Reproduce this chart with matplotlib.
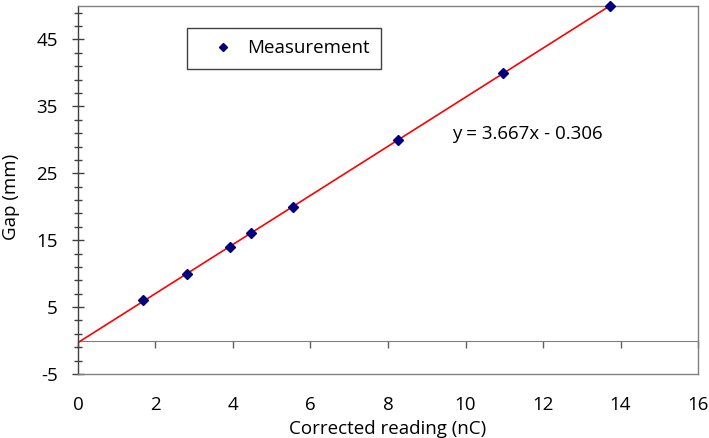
import numpy as np
import matplotlib
matplotlib.use('Agg')
import matplotlib.pyplot as plt
from matplotlib.ticker import FixedLocator, NullFormatter

plt.rcParams['font.family'] = ['Open Sans', 'DejaVu Sans']
plt.rcParams['axes.unicode_minus'] = False

# measured points
reading = [1.68, 2.81, 3.91, 4.46, 5.54, 8.26, 10.98, 13.72]   # nC
gap = [6, 10, 14, 16, 20, 30, 40, 50]                             # mm

# trendline as printed on the chart
slope = 3.667
icpt = -0.306

x_ticks = np.arange(0, 17, 2)
y_major = np.arange(-5, 50, 10)
y_minor = np.arange(-5, 50, 2)
xlim = (0, 16)
ylim = (-5, 50)

fs = 13.5

fig = plt.figure(figsize=(7.09, 4.38), dpi=100)
ax = fig.add_axes([0.110, 0.1461, 0.8745, 0.8402])

xf = np.array([0, max(reading)])
ax.plot(xf, slope*xf + icpt, '-', color='#ff0000', lw=1.2, zorder=2)
ax.plot(reading, gap, 'D', color='#00007f', ms=5.5, label='Measurement',
        zorder=3, clip_on=False)

ax.set_xlim(xlim)
ax.set_ylim(ylim)

# frame
for side in ['top', 'right', 'bottom']:
    ax.spines[side].set_color('#808080')
ax.spines['left'].set_color('#404040')
for s in ax.spines.values():
    s.set_linewidth(1.0)

# y axis ticks, crossing the spine
ax.yaxis.set_major_locator(FixedLocator(y_major))
ax.yaxis.set_minor_locator(FixedLocator(y_minor))
ax.tick_params(axis='y', which='major', direction='inout', length=9,
               width=1, color='#404040', labelsize=fs, pad=10)
ax.tick_params(axis='y', which='minor', direction='inout', length=6,
               width=1, color='#404040')

# x labels at the bottom, marks on the zero line
ax.set_xticks(x_ticks)
ax.tick_params(axis='x', length=0, labelsize=fs, pad=16)

zero = (0 - ylim[0]) / (ylim[1] - ylim[0])
sec = ax.secondary_xaxis(zero)
sec.set_xticks(x_ticks)
sec.xaxis.set_major_formatter(NullFormatter())
sec.tick_params(axis='x', direction='out', length=5, width=1,
                color='#606060', labelbottom=False, labeltop=False)
for s in sec.spines.values():
    s.set_color('#808080')

ax.set_xlabel('Corrected reading (nC)', fontsize=fs, labelpad=4)
ax.set_ylabel('Gap (mm)', fontsize=fs)
ax.yaxis.set_label_coords(-0.094, 0.48)

ax.text(9.65, 30.9, 'y = %.3fx - %.3f' % (slope, abs(icpt)),
        fontsize=fs, va='center', ha='left')

leg = ax.legend(loc='upper left', bbox_to_anchor=(0.176, 0.94),
                fancybox=False, framealpha=1, edgecolor='#404040',
                fontsize=fs, borderaxespad=0, handletextpad=0.0,
                borderpad=0.6, handlelength=2.6, markerscale=0.8)
leg.get_frame().set_linewidth(1.0)

fig.savefig('out.png', dpi=100)
